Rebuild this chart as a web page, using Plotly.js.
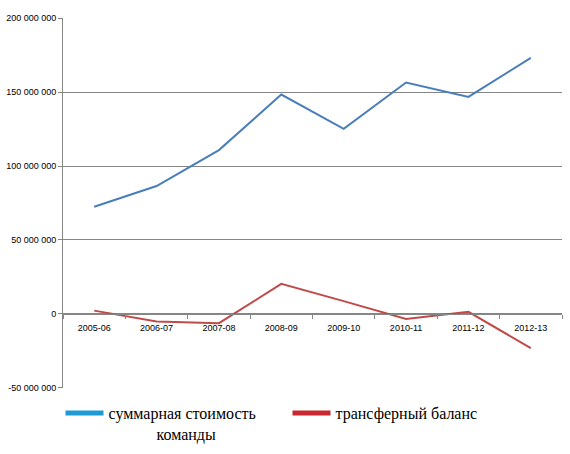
<!DOCTYPE html>
<html>
<head>
<meta charset="utf-8">
<script src="https://cdn.plot.ly/plotly-3.0.1.min.js"></script>
<style>html,body{margin:0;padding:0;background:#fff;}#chart{width:570px;height:454px;}</style>
</head>
<body>
<div id="chart"></div>
<script>
const seasons = ["2005-06","2006-07","2007-08","2008-09","2009-10","2010-11","2011-12","2012-13"];
const teamValue = [72500000, 86500000, 110800000, 148400000, 125200000, 156500000, 146800000, 173200000];
const transferBalance = [2200000, -5200000, -6300000, 20300000, 8600000, -3400000, 1400000, -23200000];
const yTickVals = [-50000000, 0, 50000000, 100000000, 150000000, 200000000];
const yTickText = ["-50 000 000", "0", "50 000 000", "100 000 000", "150 000 000", "200 000 000"];
const seriesNames = ["суммарная стоимость<br>&nbsp;&nbsp;&nbsp;&nbsp;&nbsp;&nbsp;&nbsp;&nbsp;&nbsp;&nbsp;&nbsp;&nbsp;команды", "трансферный баланс"];

const traces = [
  {x: seasons, y: teamValue, type: 'scatter', mode: 'lines', showlegend: false,
   line: {color: '#4a7ebb', width: 2}, hoverinfo: 'skip'},
  {x: seasons, y: transferBalance, type: 'scatter', mode: 'lines', showlegend: false,
   line: {color: '#be4b48', width: 2}, hoverinfo: 'skip'},
  {x: [null], y: [null], type: 'scatter', mode: 'lines', name: seriesNames[0],
   line: {color: '#1e9ad6', width: 5}},
  {x: [null], y: [null], type: 'scatter', mode: 'lines', name: seriesNames[1],
   line: {color: '#c8282e', width: 5}}
];

const layout = {
  width: 570, height: 454,
  margin: {l: 63, r: 8, t: 18, b: 66, autoexpand: false},
  paper_bgcolor: '#fff', plot_bgcolor: '#fff',
  font: {family: '"Liberation Sans", Arial, sans-serif', size: 9, color: '#000'},
  xaxis: {
    type: 'category', categoryarray: seasons,
    anchor: 'free', position: 0.2,
    showline: true, linecolor: '#868686', linewidth: 1,
    showgrid: false, zeroline: false,
    ticks: 'outside', tickson: 'boundaries', ticklen: 4, tickcolor: '#868686',
    ticklabelstandoff: 5,
    tickfont: {size: 9, color: '#000'}, range: [-0.5, 7.5]
  },
  yaxis: {
    range: [-50150000, 200150000],
    tickvals: yTickVals, ticktext: yTickText,
    showgrid: true, gridcolor: '#868686', gridwidth: 1,
    zeroline: false, showline: true, linecolor: '#868686', linewidth: 1,
    ticks: 'outside', ticklen: 4, tickcolor: '#868686',
    tickfont: {size: 9, color: '#000'}
  },
  showlegend: true,
  legend: {
    orientation: 'h', x: -0.005, xanchor: 'left', y: -0.022, yanchor: 'top',
    font: {family: '"Liberation Serif", "Times New Roman", serif', size: 16, color: '#000'},
    entrywidth: 174, entrywidthmode: 'pixels', itemwidth: 38, valign: 'top'
  }
};

Plotly.newPlot('chart', traces, layout, {displayModeBar: false, staticPlot: true});
</script>
</body>
</html>
